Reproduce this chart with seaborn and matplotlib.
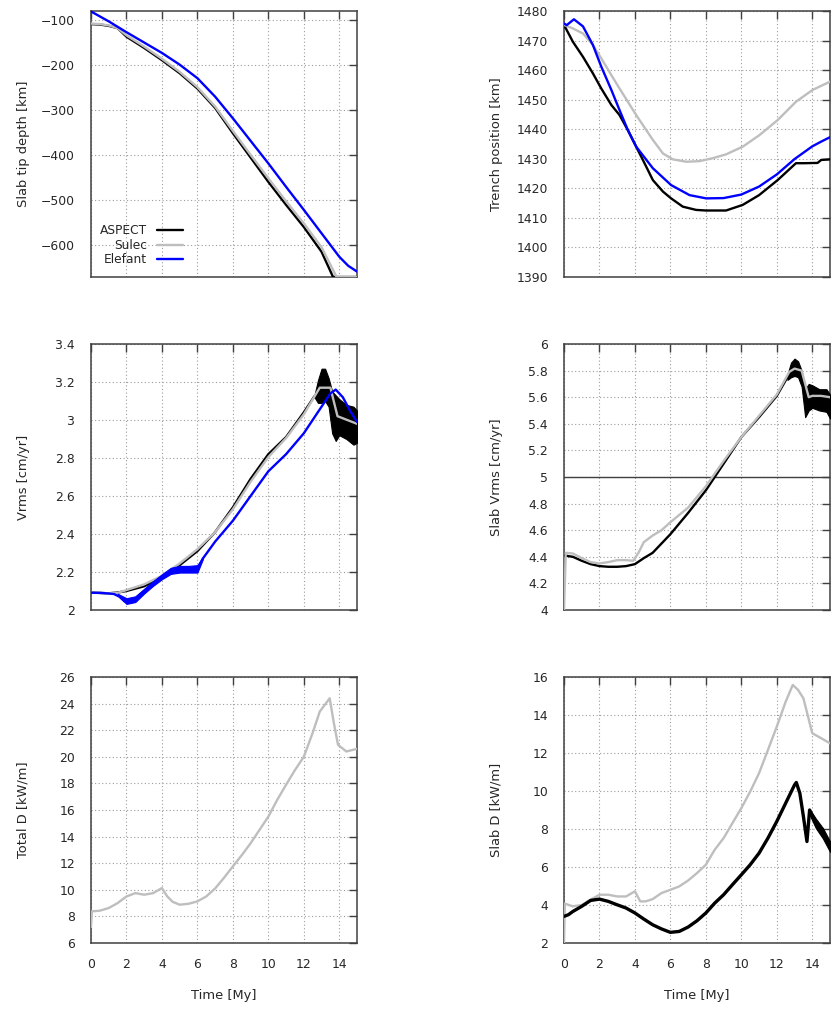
import matplotlib
matplotlib.use("Agg")
import matplotlib.pyplot as plt
from matplotlib.ticker import FuncFormatter
import seaborn as sns

# ---------------- data ----------------
# Panel 1: slab tip depth [km]
t_depth_aspect = [0, 0.5, 1, 1.5, 2, 3, 4, 5, 6, 7, 8, 9, 10, 11, 12, 13, 13.65, 14, 15]
depth_aspect = [-109, -110, -113, -118, -137, -162, -189, -218, -252, -295, -351, -405, -459, -510, -559, -614, -670, -670, -670]
t_depth_sulec = [0, 0.5, 1, 1.5, 2, 3, 4, 5, 6, 7, 8, 9, 10, 11, 12, 13, 13.85, 15]
depth_sulec = [-108, -109, -112, -118, -134, -159, -186, -215, -249, -292, -346, -399, -451, -502, -551, -604, -670, -670]
t_depth_elefant = [0, 0.5, 1, 1.5, 2, 3, 4, 5, 6, 7, 8, 9, 10, 11, 12, 13, 14, 14.5, 15]
depth_elefant = [-81, -92, -103, -115, -127, -150, -173, -199, -229, -270, -318, -368, -418, -470, -521, -573, -625, -645, -658]

# Panel 2: trench position [km]
t_trench_aspect = [0, 0.5, 1.07, 1.63, 2.1, 2.67, 3.13, 3.6, 4.07, 4.54, 5.01, 5.58, 6.04, 6.7, 7.45, 8.0, 9.14, 10.08, 11.0, 12.05, 13.08, 13.5, 14.3, 14.5, 15]
trench_aspect = [1475.3, 1469.6, 1464.5, 1458.9, 1453.8, 1448.2, 1444.8, 1439.7, 1434.1, 1428.5, 1422.8, 1418.9, 1416.6, 1413.8, 1412.7, 1412.5, 1412.5, 1414.4, 1417.7, 1422.8, 1428.5, 1428.5, 1428.6, 1429.6, 1429.8]
t_trench_sulec = [0, 0.5, 1.07, 1.63, 2.1, 2.67, 3.13, 3.6, 4.07, 5.01, 5.58, 6.14, 6.89, 7.64, 8.39, 9.14, 10.08, 11.02, 12.05, 13.08, 14.02, 15]
trench_sulec = [1475.3, 1474.1, 1472.4, 1468.5, 1464.0, 1458.3, 1453.8, 1449.3, 1444.8, 1436.4, 1431.8, 1429.8, 1429.0, 1429.2, 1430.2, 1431.5, 1434.1, 1438.0, 1443.1, 1449.3, 1453.3, 1456.1]
t_trench_elefant = [0, 0.15, 0.56, 1.07, 1.63, 2.1, 2.67, 3.13, 3.6, 4.07, 5.01, 6.04, 7.08, 8.02, 9.0, 10.0, 11.0, 12.0, 13.0, 14.0, 14.5, 15]
trench_elefant = [1475.8, 1475.2, 1477.2, 1474.8, 1468.5, 1461.2, 1453.3, 1446.5, 1439.7, 1434.1, 1426.8, 1421.1, 1417.7, 1416.6, 1416.7, 1417.9, 1420.6, 1424.7, 1429.9, 1434.2, 1435.8, 1437.3]

# Panel 3: Vrms [cm/yr]
t_vrms_aspect = [0, 0.5, 1, 1.5, 2, 3, 4, 5, 6, 7, 8, 9, 10, 11, 12, 12.6]
vrms_aspect = [2.091, 2.090, 2.088, 2.092, 2.100, 2.125, 2.172, 2.236, 2.310, 2.410, 2.540, 2.690, 2.820, 2.910, 3.040, 3.125]
t_vrms_aspect_band = [12.6, 12.8, 13.0, 13.2, 13.4, 13.6, 13.8, 14.0, 14.4, 14.8, 15.0]
vrms_aspect_hi = [3.13, 3.21, 3.27, 3.27, 3.22, 3.15, 3.13, 3.11, 3.08, 3.07, 3.05]
vrms_aspect_lo = [3.12, 3.09, 3.09, 3.10, 3.07, 2.93, 2.89, 2.92, 2.90, 2.87, 2.88]
t_vrms_sulec = [0, 1, 1.5, 2, 3, 4, 5, 6, 7, 8, 9, 10, 11, 12, 12.9, 13.5, 13.9, 15]
vrms_sulec = [2.091, 2.088, 2.090, 2.105, 2.135, 2.180, 2.245, 2.320, 2.410, 2.530, 2.675, 2.805, 2.905, 3.030, 3.170, 3.170, 3.020, 2.980]
t_vrms_elefant = [0, 0.5, 1, 1.3, 1.6, 1.9, 2.2, 2.5, 3, 3.5, 4, 4.5, 5, 5.5, 6, 6.3, 7, 8, 9, 10, 11, 12, 12.5, 13, 13.5, 13.8, 14.2, 14.6, 15]
vrms_elefant = [2.091, 2.090, 2.087, 2.084, 2.070, 2.045, 2.050, 2.060, 2.100, 2.140, 2.175, 2.205, 2.215, 2.215, 2.215, 2.270, 2.360, 2.470, 2.600, 2.730, 2.820, 2.930, 3.000, 3.070, 3.140, 3.160, 3.120, 3.050, 2.990]
t_vrms_elefant_band = [1.5, 2, 2.5, 3, 3.5, 4, 4.5, 5, 5.5, 6, 6.3]
vrms_elefant_hi = [2.086, 2.062, 2.072, 2.112, 2.152, 2.188, 2.222, 2.232, 2.232, 2.236, 2.278]
vrms_elefant_lo = [2.078, 2.032, 2.042, 2.087, 2.127, 2.162, 2.190, 2.197, 2.197, 2.197, 2.266]

# Panel 4: slab Vrms [cm/yr]
t_svrms_aspect = [0, 0.5, 1, 1.5, 2, 2.5, 3, 3.5, 4, 4.5, 5, 6, 7, 8, 9, 10, 11, 12, 12.6]
svrms_aspect = [4.41, 4.40, 4.37, 4.345, 4.33, 4.325, 4.325, 4.33, 4.345, 4.39, 4.43, 4.57, 4.73, 4.90, 5.10, 5.30, 5.45, 5.61, 5.75]
t_svrms_aspect_band = [12.6, 12.8, 13.0, 13.2, 13.4, 13.6, 13.8, 14.0, 14.4, 14.8, 15.0]
svrms_aspect_hi = [5.77, 5.86, 5.89, 5.87, 5.80, 5.66, 5.70, 5.69, 5.66, 5.66, 5.62]
svrms_aspect_lo = [5.73, 5.75, 5.76, 5.75, 5.68, 5.45, 5.50, 5.52, 5.50, 5.49, 5.44]
t_svrms_sulec = [0, 0.1, 0.5, 1, 1.5, 2, 2.5, 3, 3.5, 3.9, 4.2, 4.5, 5, 5.5, 6, 7, 8, 9, 10, 11, 12, 12.7, 13.0, 13.4, 13.6, 13.8, 14.0, 14.5, 15]
svrms_sulec = [4.0, 4.43, 4.425, 4.39, 4.36, 4.35, 4.36, 4.375, 4.375, 4.37, 4.43, 4.51, 4.56, 4.60, 4.66, 4.77, 4.93, 5.12, 5.30, 5.46, 5.62, 5.79, 5.815, 5.80, 5.70, 5.60, 5.61, 5.61, 5.60]

# Panel 5: total dissipation [kW/m]
t_totd_sulec = [0, 0.05, 0.5, 1, 1.5, 2, 2.5, 3, 3.5, 4, 4.3, 4.6, 5, 5.5, 6, 6.5, 7, 7.5, 8, 8.5, 9, 9.5, 10, 10.5, 11, 11.5, 12, 12.5, 12.9, 13.46, 13.7, 13.93, 14.4, 15]
totd_sulec = [7.2, 8.38, 8.43, 8.63, 9.0, 9.5, 9.75, 9.63, 9.75, 10.13, 9.5, 9.1, 8.88, 8.95, 9.13, 9.5, 10.1, 10.9, 11.76, 12.6, 13.5, 14.5, 15.5, 16.76, 17.9, 19.0, 20.0, 21.8, 23.4, 24.4, 22.5, 20.9, 20.4, 20.6]

# Panel 6: slab dissipation [kW/m]
t_slabd_aspect = [0, 0.25, 0.5, 1, 1.5, 2, 2.5, 3, 3.5, 4, 4.5, 5, 5.5, 6, 6.5, 7, 7.5, 8, 8.5, 9, 9.5, 10, 10.5, 11, 11.5, 12, 12.5, 13, 13.1, 13.3, 13.5, 13.7, 13.85, 14.2, 14.6, 15]
slabd_aspect = [3.40, 3.49, 3.66, 3.93, 4.24, 4.31, 4.19, 4.01, 3.84, 3.58, 3.26, 2.96, 2.74, 2.56, 2.61, 2.84, 3.17, 3.58, 4.10, 4.54, 5.07, 5.59, 6.12, 6.73, 7.52, 8.40, 9.36, 10.32, 10.45, 9.88, 8.66, 7.34, 9.0, 8.31, 7.78, 7.08]
t_slabd_aspect_band = [13.85, 14.2, 14.6, 15]
slabd_aspect_hi = [9.05, 8.55, 8.05, 7.35]
slabd_aspect_lo = [8.75, 8.05, 7.50, 6.80]
t_slabd_sulec = [0, 0.05, 0.5, 1, 1.5, 2, 2.5, 3, 3.5, 4.0, 4.3, 4.6, 5, 5.5, 6, 6.5, 7, 7.5, 8, 8.5, 9, 9.5, 10, 10.5, 11, 11.5, 12, 12.5, 12.9, 13.2, 13.5, 14, 14.5, 15]
slabd_sulec = [2.0, 4.07, 3.93, 4.0, 4.28, 4.54, 4.54, 4.45, 4.45, 4.72, 4.19, 4.19, 4.31, 4.63, 4.80, 4.98, 5.29, 5.68, 6.12, 6.91, 7.52, 8.31, 9.10, 9.97, 10.94, 12.16, 13.39, 14.70, 15.58, 15.32, 14.88, 13.04, 12.78, 12.51]

series_names = ["ASPECT", "Sulec", "Elefant"]
series_colors = ["#000000", "#bebebe", "#0000ff"]
time_ticks = [0, 2, 4, 6, 8, 10, 12, 14]

# ---------------- style ----------------
sns.set_theme(style="white")
plt.rcParams["font.family"] = ["DejaVu Sans"]
plt.rcParams["axes.unicode_minus"] = True
TXT = "#262626"
FRAME = "#404040"

fig = plt.figure(figsize=(8.33, 10.15), dpi=100)
W, H = 833.0, 1015.0
cols = [91, 564]
rows = [11, 344, 677]
aw, ah = 266, 266


def make_ax(col, row):
    return fig.add_axes([cols[col] / W, 1 - (rows[row] + ah) / H, aw / W, ah / H])


def fmt(v, p):
    s = "%g" % round(v, 6)
    return s.replace("-", "\u2212")


def style(ax, ylabel, ylim, yticks, xlabels=False):
    ax.set_xlim(0, 15)
    ax.set_ylim(*ylim)
    ax.set_xticks(time_ticks)
    ax.set_yticks(yticks)
    ax.yaxis.set_major_formatter(FuncFormatter(fmt))
    ax.tick_params(direction="in", length=6, width=1.0, top=True, right=True,
                   color=FRAME, labelcolor=TXT, labelsize=8.9)
    ax.tick_params(axis="y", pad=11.5)
    ax.tick_params(axis="x", pad=10.5)
    ax.grid(True, linestyle=(0, (1.0, 2.2)), color="#9c9c9c", linewidth=0.8)
    ax.set_axisbelow(True)
    for s in ax.spines.values():
        s.set_visible(True)
        s.set_color(FRAME)
        s.set_linewidth(1.1)
    ax.set_ylabel(ylabel, fontsize=9.4, color=TXT)
    ax.yaxis.set_label_coords(-0.23, 0.5)
    if xlabels:
        ax.set_xlabel("Time [My]", fontsize=9.4, color=TXT)
        ax.xaxis.set_label_coords(0.5, -0.172)
    else:
        ax.set_xticklabels([])
        ax.set_xlabel("")


def line(ax, x, y, color, lw=1.7, label=None, zorder=3):
    sns.lineplot(x=x, y=y, ax=ax, color=color, linewidth=lw, estimator=None,
                 sort=False, legend=False, label=label, zorder=zorder)


# Panel 1
ax1 = make_ax(0, 0)
line(ax1, t_depth_aspect, depth_aspect, series_colors[0], label=series_names[0])
line(ax1, t_depth_sulec, depth_sulec, series_colors[1], label=series_names[1])
line(ax1, t_depth_elefant, depth_elefant, series_colors[2], label=series_names[2])
style(ax1, "Slab tip depth [km]", (-670, -80), [-100, -200, -300, -400, -500, -600])
leg = ax1.legend(loc="lower left", bbox_to_anchor=(0.034, 0.04), frameon=False,
                 markerfirst=False, fontsize=8.8, handlelength=2.1,
                 handletextpad=0.8, labelspacing=0.12, borderpad=0, borderaxespad=0)
for t in leg.get_texts():
    t.set_color(TXT)

# Panel 2
ax2 = make_ax(1, 0)
line(ax2, t_trench_aspect, trench_aspect, series_colors[0])
line(ax2, t_trench_sulec, trench_sulec, series_colors[1])
line(ax2, t_trench_elefant, trench_elefant, series_colors[2])
style(ax2, "Trench position [km]", (1390, 1480), list(range(1390, 1481, 10)))

# Panel 3
ax3 = make_ax(0, 1)
line(ax3, t_vrms_aspect, vrms_aspect, series_colors[0])
ax3.fill_between(t_vrms_aspect_band, vrms_aspect_lo, vrms_aspect_hi, color=series_colors[0], lw=0.8, zorder=3)
line(ax3, t_vrms_sulec, vrms_sulec, series_colors[1], zorder=4)
line(ax3, t_vrms_elefant, vrms_elefant, series_colors[2], zorder=5)
ax3.fill_between(t_vrms_elefant_band, vrms_elefant_lo, vrms_elefant_hi, color=series_colors[2], lw=0.8, zorder=5)
style(ax3, "Vrms [cm/yr]", (2, 3.4), [2, 2.2, 2.4, 2.6, 2.8, 3.0, 3.2, 3.4])

# Panel 4
ax4 = make_ax(1, 1)
ax4.axhline(5, color=FRAME, lw=1.0, zorder=2)
line(ax4, t_svrms_aspect, svrms_aspect, series_colors[0])
ax4.fill_between(t_svrms_aspect_band, svrms_aspect_lo, svrms_aspect_hi, color=series_colors[0], lw=0.8, zorder=3)
line(ax4, t_svrms_sulec, svrms_sulec, series_colors[1], zorder=4)
style(ax4, "Slab Vrms [cm/yr]", (4, 6), [4, 4.2, 4.4, 4.6, 4.8, 5, 5.2, 5.4, 5.6, 5.8, 6])

# Panel 5
ax5 = make_ax(0, 2)
line(ax5, t_totd_sulec, totd_sulec, series_colors[1])
style(ax5, "Total D [kW/m]", (6, 26), list(range(6, 27, 2)), xlabels=True)

# Panel 6
ax6 = make_ax(1, 2)
line(ax6, t_slabd_sulec, slabd_sulec, series_colors[1])
line(ax6, t_slabd_aspect, slabd_aspect, series_colors[0], lw=2.4)
ax6.fill_between(t_slabd_aspect_band, slabd_aspect_lo, slabd_aspect_hi, color=series_colors[0], lw=0.8, zorder=3)
style(ax6, "Slab D [kW/m]", (2, 16), list(range(2, 17, 2)), xlabels=True)

fig.savefig("out.png", dpi=100)
